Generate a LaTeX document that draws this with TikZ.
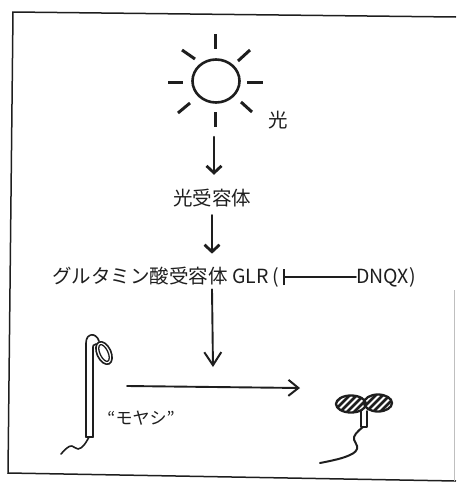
\documentclass[tikz,border=0pt]{standalone}
\usepackage{fontspec}
\setmainfont{Noto Sans CJK JP}
\usetikzlibrary{arrows.meta,shapes.geometric}

\definecolor{ink}{HTML}{1E1E1E}

\tikzset{
  label text/.style={inner sep=0pt, text=ink, font=\fontsize{19.5}{22}\selectfont},
  small text/.style={inner sep=0pt, text=ink, font=\fontsize{17}{20}\selectfont},
  pen/.style={draw=ink, line width=2pt, line cap=round, line join=round},
  thin pen/.style={draw=ink, line width=1.6pt, line cap=round, line join=round},
  ray/.style={draw=ink, line width=3pt},
  fat arrow/.style={pen, line width=2.2pt, -{Straight Barb[length=7pt, width=15pt, line width=2.8pt]}},
  open arrow/.style={pen, line width=1.9pt, -{Straight Barb[length=13pt, width=17pt, line width=2pt]}},
  flat arrow/.style={pen, line width=1.9pt, -{Straight Barb[length=10pt, width=16pt, line width=2pt]}},
  block/.style={pen, line width=1.6pt, -{Bar[width=16pt, line width=2pt]}},
  hatch/.style={draw=ink, line width=2.6pt},
}

\begin{document}
\begin{tikzpicture}[x=1pt, y=-1pt]
  \useasboundingbox (0,0) rectangle (456,485);

  % hand-drawn frame
  \draw[ink, line width=1.5pt] (456,17) -- (13,12) -- (8,473) -- (456,481);
  \draw[black!25, line width=0.8pt] (454,290) -- (454,481);

  % the sun
  \node[ellipse, draw=ink, line width=2.6pt, minimum width=47pt, minimum height=43pt, inner sep=0pt] (sun) at (216,81) {};
  \draw[ray] (215,34) -- (215,49);
  \draw[ray] (215,112) -- (215,127);
  \draw[ray] (168,82) -- (183,82);
  \draw[ray] (247,82) -- (263,82);
  \draw[ray] (182,50) -- (195,59);
  \draw[ray] (238,61) -- (250,50);
  \draw[ray] (178,113) -- (190,103);
  \draw[ray] (241,102) -- (252,112);
  \node[label text] (light) at (278,120) {光};

  % signalling chain
  \node[label text] (rec) at (212,198) {光受容体};
  \node[label text, anchor=west] (glr) at (52,277) {グルタミン酸受容体 GLR (};
  \node[label text, anchor=west] (dnqx) at (356,277) {DNQX)};

  \coordinate (ray end) at (214,137);
  \coordinate (dark end) at (213,367);
  \draw[fat arrow] (ray end) -- ([yshift=14pt]rec.north -| ray end);
  \draw[fat arrow] ([yshift=-8pt]rec.south) -- ([yshift=13pt]rec |- glr.north);
  \draw[block] (dnqx.west) -- ([xshift=3pt]glr.east);
  \draw[open arrow] ([yshift=-2pt]rec |- glr.south) -- (dark end);

  % etiolated sprout ("moyashi")
  \draw[thin pen] (86,437) -- (86,343) .. controls (86,333) and (96,332) .. (99,341);
  \draw[thin pen] (93,437) -- (93,349) .. controls (93,345) .. (96,344);
  \draw[thin pen] (86,437) -- (93,437);
  \draw[thin pen, rotate around={25:(104,353)}] (104,353) ellipse [x radius=7, y radius=12];
  \draw[thin pen, line width=1.3pt, rotate around={25:(104,353)}] (104,353) ellipse [x radius=4, y radius=9];
  \draw[thin pen] plot[smooth, tension=0.7] coordinates {(89,437) (84,445) (78,449) (72,446) (67,448) (61,454)};
  \node[small text] (moyashi) at (141,418) {“モヤシ”};

  % green seedling
  \begin{scope}
    \clip (351,404) ellipse [x radius=15, y radius=8.5];
    \foreach \d in {-24,-17,...,24} \draw[hatch] (351+\d-12,416) -- (351+\d+12,392);
  \end{scope}
  \draw[pen, line width=2.3pt] (351,404) ellipse [x radius=15, y radius=8.5];
  \begin{scope}
    \clip (378,403) ellipse [x radius=14, y radius=8.5];
    \foreach \d in {-24,-17,...,24} \draw[hatch] (378+\d-12,415) -- (378+\d+12,391);
  \end{scope}
  \draw[pen, line width=2.3pt] (378,403) ellipse [x radius=14, y radius=8.5];
  \draw[thin pen] (361,411) -- (361,427) -- (367,427) -- (367,411);
  \draw[pen] plot[smooth, tension=0.7] coordinates {(363,427) (354,437) (357,449) (345,457) (320,463)};

  % growth arrow between the two sprouts
  \coordinate (growth start) at (127,386);
  \coordinate (growth end) at (300,388);
  \draw[flat arrow] (growth start) -- (growth end);
\end{tikzpicture}
\end{document}
